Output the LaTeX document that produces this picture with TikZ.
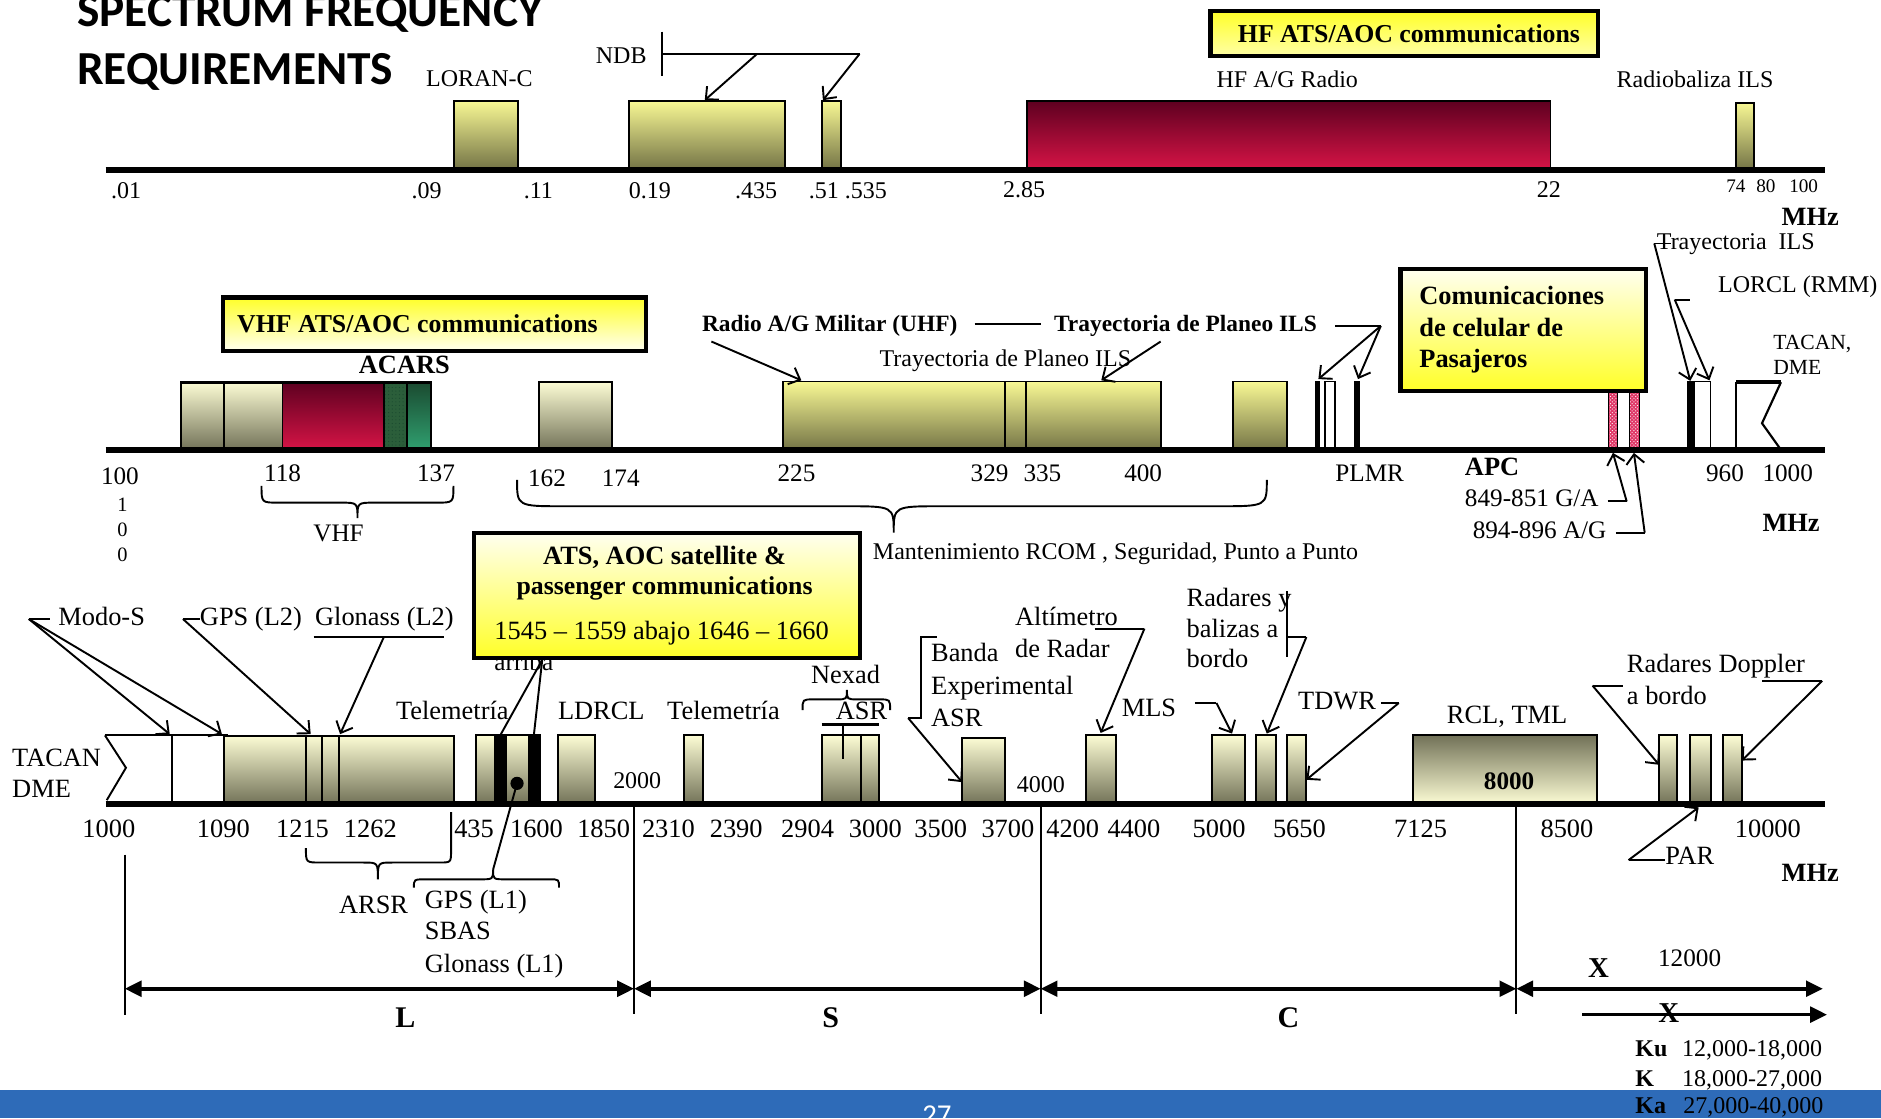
\documentclass[tikz,border=0pt]{standalone}
\usepackage{fontspec}
\setmainfont{Liberation Serif}
\newfontfamily\titlef{Carlito}
\usetikzlibrary{arrows.meta,patterns}
\definecolor{ytop}{HTML}{F8F894}
\definecolor{ybot}{HTML}{747446}
\definecolor{ctop}{HTML}{FCFCD4}
\definecolor{cbot}{HTML}{727258}
\definecolor{rtop}{HTML}{5E0020}
\definecolor{rbot}{HTML}{D61446}
\definecolor{gtop}{HTML}{1A4A30}
\definecolor{gbot}{HTML}{30A070}
\definecolor{gmot}{HTML}{2B5E3A}
\definecolor{pinkbar}{HTML}{E03868}
\definecolor{ylw}{HTML}{FFFF28}
\definecolor{ylwpale}{HTML}{FFFFF0}
\definecolor{barblue}{HTML}{2E6BB8}
\newcommand{\fsz}[1]{\fontsize{#1}{#1}\selectfont}
\begin{document}
\begin{tikzpicture}[x=1pt,y=-1pt,
  lab/.style={inner sep=0pt,anchor=base west},
  labc/.style={inner sep=0pt,anchor=base},
  top/.style={lab,font=\fsz{20}},
  mid/.style={lab,font=\fsz{21}},
  bot/.style={lab,font=\fsz{22}},
  bx/.style={draw=black,line width=1.6},
  ybox/.style={bx,top color=ytop,bottom color=ybot},
  cbox/.style={bx,top color=ctop,bottom color=cbot},
  rbox/.style={bx,top color=rtop,bottom color=rbot},
  lbox/.style={draw=black,line width=3.5},
  ln/.style={line width=1.6},
  arr/.style={line width=1.6,-{Straight Barb[length=8pt,width=15pt]}},
  axisline/.style={line width=4.6},
  band/.style={line width=3,{Triangle[length=14pt,width=13pt]}-{Triangle[length=14pt,width=13pt]}},
]
\useasboundingbox (0,0) rectangle (1568,932);
\fill[white] (0,0) rectangle (1568,932);

% ---------------- Title
\node[lab,font=\titlef\bfseries\fsz{39.5}] (title1) at (64,22) {SPECTRUM FREQUENCY};
\node[lab,font=\titlef\bfseries\fsz{39.5}] (title2) at (64,70.5) {REQUIREMENTS};

% ---------------- TOP BAND
\draw[ybox] (378.5,84) rectangle (431.5,141);
\draw[ybox] (524,84) rectangle (654,141);
\draw[ybox] (685,84) rectangle (701,141);
\draw[rbox] (856,84) rectangle (1292.5,141);
\draw[ybox] (1447,85.5) rectangle (1462,141);
\draw[axisline] (88,141.7) -- (1521,141.7);

\node[top] (loran) at (355,71.7) {LORAN-C};
\node[top] (ndb) at (496.5,53) {NDB};
\node[top] (hfag) at (1014,72.8) {HF A/G Radio};
\node[top] (radiob) at (1347.5,72.8) {Radiobaliza ILS};
\node[top] (k01) at (92.5,165.5) {.01};
\node[top] (k09) at (343,165.5) {.09};
\node[top] (k11) at (436.5,165.5) {.11};
\node[top] (k019) at (524,165.5) {0.19};
\node[top] (k435) at (612.5,165.5) {.435};
\node[top] (k51) at (674,165.5) {.51 .535};
\node[top] (k285) at (836,165) {2.85};
\node[top] (k22) at (1281,165) {22};
\node[labc,font=\fsz{16}] (k74) at (1447,160.5) {74};
\node[labc,font=\fsz{16}] (k80) at (1472,160.5) {80};
\node[labc,font=\fsz{16}] (k100t) at (1503.5,160.5) {100};
\node[lab,font=\bfseries\fsz{22}] (mhz1) at (1485,188) {MHz};

\coordinate (ndbv1) at (551.5,26.4);
\coordinate (ndbv2) at (551.5,63.3);
\coordinate (ndbh) at (551.5,45);
\coordinate (ndbm) at (631,45);
\coordinate (ndbe) at (716.5,45);
\draw[ln] (ndbv1) -- (ndbv2);
\draw[ln] (ndbh) -- (ndbe);
\draw[arr] (ndbm) -- (587.5,83.5);
\draw[arr] (ndbe) -- (686,83.5);

\draw[lbox,top color=ylw,bottom color=yellow!35] (1009,9) rectangle (1332,46.7);
\node[labc,font=\bfseries\fsz{21.5}] (hfats) at (1174.5,35.6) {HF ATS/AOC communications};

% ---------------- MIDDLE BAND
\draw[cbox] (151,318.5) rectangle (187,375);
\draw[cbox] (187,318.5) rectangle (235.5,375);
\draw[rbox] (235.5,318.5) rectangle (320,375);
\fill[gmot] (320,318.5) rectangle (339,375);
\fill[pattern=dots,pattern color=gtop] (320,318.5) rectangle (339,375);
\shade[top color=gtop,bottom color=gbot] (339,318.5) rectangle (359,375);
\draw[ln] (320,318.5) rectangle (359,375);
\draw[ln] (339,318.5) -- (339,375);
\draw[line width=2.5] (151,318.5) -- (359,318.5);
\draw[cbox] (449,318.5) rectangle (510.5,375);
\draw[ybox] (653,318) rectangle (838,375);
\draw[ybox] (838,318) rectangle (855,375);
\draw[ybox] (855,318) rectangle (967.5,375);
\draw[ybox] (1027.5,318) rectangle (1073,375);
\fill (1096,318) rectangle (1100,375);
\draw[line width=1.4,fill=white] (1104.6,318) rectangle (1113,375);
\fill (1129,318) rectangle (1134,375);
\fill[pinkbar] (1341,325.6) rectangle (1348,375);
\fill[pattern=crosshatch dots,pattern color=white] (1341,325.6) rectangle (1348,375);
\draw[line width=0.8] (1341,325.6) rectangle (1348,375);
\fill[pinkbar] (1358,325.6) rectangle (1367,375);
\fill[pattern=crosshatch dots,pattern color=white] (1358,325.6) rectangle (1367,375);
\draw[line width=0.8] (1358,325.6) rectangle (1367,375);
\fill (1406,318) rectangle (1412,375);
\draw[line width=1.2,fill=white] (1412,318) rectangle (1426,375);
\draw[line width=1.8] (1447.3,375) -- (1447.3,318.6);
\draw[line width=3.2] (1447.3,318.6) -- (1484.6,318.6);
\draw[line width=1.8] (1484.6,318.6) -- (1468.8,352.8) -- (1484.6,375);
\draw[axisline] (88,375) -- (1521,375);

\draw[lbox,top color=ylw,bottom color=ylwpale] (186,248) rectangle (538.5,292.5);
\node[lab,font=\bfseries\fsz{21.5}] (vhfats) at (197.5,277.5) {VHF ATS/AOC communications};
\node[lab,font=\bfseries\fsz{22}] (acars) at (299,311) {ACARS};

\node[lab,font=\bfseries\fsz{19.5}] (milit) at (585,276.4) {Radio A/G Militar (UHF)};
\node[lab,font=\bfseries\fsz{19.5}] (tpils) at (878.5,276.4) {Trayectoria de Planeo ILS};
\draw[ln] (812.5,270) -- (868,270);
\coordinate (tpj) at (1151,271.7);
\draw[ln] (1113,271.7) -- (tpj);
\draw[arr] (tpj) -- (1099,316);
\draw[arr] (tpj) -- (1132,316);
\draw[arr] (593,284.7) -- (668,317);
\node[top] (tpils2) at (733,305.6) {Trayectoria de Planeo ILS};
\draw[arr] (967.5,284.7) -- (918,317);

\draw[lbox,top color=ylwpale,bottom color=ylw] (1167.5,224) rectangle (1372,325.6);
\node[lab,font=\bfseries\fsz{22}] (com1) at (1183,254) {Comunicaciones};
\node[lab,font=\bfseries\fsz{22}] (com2) at (1183,280.6) {de celular de};
\node[lab,font=\bfseries\fsz{22}] (com3) at (1183,306.4) {Pasajeros};

\node[top] (trils) at (1381,208) {Trayectoria\ \ ILS};
\draw[ln] (1379,203) -- (1393,203);
\draw[arr] (1379,203) -- (1409,317.5);
\node[top] (lorcl) at (1432,244) {LORCL (RMM)};
\draw[ln] (1396,249.7) -- (1409,249.7);
\draw[arr] (1396,249.7) -- (1425,317);
\node[lab,font=\fsz{18}] (tac1) at (1478,291.7) {TACAN,};
\node[lab,font=\fsz{18}] (tac2) at (1478,312.5) {DME};

\node[mid] (m100) at (84,404) {100};
\node[mid] (m118) at (220,401.4) {118};
\node[mid] (m137) at (347.5,401.4) {137};
\node[mid] (m162) at (440,405.6) {162};
\node[mid] (m174) at (501.5,405.6) {174};
\node[mid] (m225) at (648,401.4) {225};
\node[mid] (m329) at (809,401.4) {329};
\node[mid] (m335) at (853,401.4) {335};
\node[mid] (m400) at (937,401.4) {400};
\node[mid] (plmr) at (1113,401.4) {PLMR};
\node[mid] (m960) at (1422,401.4) {960};
\node[mid] (m1000) at (1469,401.4) {1000};
\node[labc,font=\fsz{17}] (v1) at (102,426.4) {1};
\node[labc,font=\fsz{17}] (v2) at (102,447.2) {0};
\node[labc,font=\fsz{17}] (v3) at (102,468) {0};
\node[lab,font=\bfseries\fsz{22}] (apc) at (1221,396) {APC};
\node[mid] (ga) at (1221,422.6) {849-851 G/A};
\draw[ln] (1340,418) -- (1356,418);
\draw[arr] (1356,418) -- (1344.5,377.5);
\node[mid] (ag) at (1227.5,449) {894-896 A/G};
\draw[ln] (1347,444) -- (1371,444);
\draw[arr] (1371,444) -- (1362,377.5);
\node[lab,font=\bfseries\fsz{22}] (mhz2) at (1469,443) {MHz};

\draw[ln] (218,405) .. controls (218,419) .. (232,419) -- (284,419) .. controls (298,419) .. (298,432) .. controls (298,419) .. (312,419) -- (364,419) .. controls (378,419) .. (378,405);
\node[mid] (vhf) at (261,451.4) {VHF};
\draw[ln] (431,400) .. controls (431,422) .. (470,422) -- (705,422) .. controls (745,422) .. (745,444) .. controls (745,422) .. (785,422) -- (1016,422) .. controls (1056,422) .. (1056,400);
\node[top] (mant) at (727.5,466.7) {Mantenimiento RCOM , Seguridad, Punto a Punto};

% ---------------- BOTTOM BAND
\draw[ln] (87.5,613) -- (190,613);
\draw[ln] (87.5,613) -- (105,640) -- (89,667);
\draw[ln] (143.5,613) -- (143.5,670);
\draw[cbox] (186.5,613.3) rectangle (378.5,670);
\draw[ln] (255,613.3) -- (255,670);
\draw[ln] (268.5,613.3) -- (268.5,670);
\draw[ln] (282.5,613.3) -- (282.5,670);
\node[bot] (tacan) at (10,639) {TACAN};
\node[bot] (dme) at (10,665) {DME};
\draw[cbox] (396.5,613) rectangle (450,670);
\fill (411.5,613) rectangle (422.5,670);
\fill (440,613) rectangle (450,670);
\fill (431,653) circle (5.5);
\draw[cbox] (465,613) rectangle (496,670);
\node[lab,font=\fsz{20}] (b2000) at (511,657.5) {2000};
\draw[cbox] (570,613) rectangle (586,670);
\draw[cbox] (685,613) rectangle (717.5,670);
\draw[cbox] (717.5,613) rectangle (732.5,670);
\draw[line width=2.8] (685,604) -- (732.5,604);
\draw[ln] (702.5,604) -- (702.5,633);
\draw[cbox] (802,615) rectangle (837.5,670);
\node[lab,font=\fsz{20}] (b4000) at (847.5,661) {4000};
\draw[cbox] (905,612.5) rectangle (930,670);
\draw[cbox] (1010,613) rectangle (1038,670);
\draw[cbox] (1047,613) rectangle (1064,670);
\draw[cbox] (1073,613) rectangle (1089,670);
\draw[bx,top color=cbot,bottom color=ctop] (1177.5,613) rectangle (1331,670);
\node[labc,font=\bfseries\fsz{21}] (b8000) at (1258,658.3) {8000};
\draw[cbox] (1383,613) rectangle (1398,670);
\draw[cbox] (1409,613) rectangle (1426,670);
\draw[cbox] (1436,613) rectangle (1452,670);
\draw[axisline] (88,670) -- (1521,670);

\node[bot] (modos) at (48.5,521.4) {Modo-S};
\coordinate (modoj) at (24,516);
\draw[ln] (modoj) -- (42,516);
\draw[arr] (modoj) -- (141.5,612);
\draw[arr] (modoj) -- (185,612);
\node[bot] (gpsl2) at (166.5,521.4) {GPS (L2)};
\coordinate (gpsj) at (152.5,516);
\draw[ln] (gpsj) -- (167,516);
\draw[arr] (gpsj) -- (259,612);
\node[bot] (glol2) at (262.5,521.4) {Glonass (L2)};
\draw[ln] (261.5,531) -- (370,531);
\draw[arr] (320,531) -- (283.5,612);

\node[bot] (tel1) at (330,600) {Telemetría};
\node[bot] (ldrcl) at (465,600) {LDRCL};
\node[bot] (tel2) at (556,600) {Telemetría};
\node[bot] (nexad) at (676,569.5) {Nexad};
\node[bot] (asr1) at (696.5,600) {ASR};
\draw[ln] (669,592) .. controls (669,583) .. (678,583) -- (697,583) .. controls (706,583) .. (706,575) .. controls (706,583) .. (715,583) -- (733,583) .. controls (742,583) .. (742,592);

\node[bot] (banda) at (776,551.4) {Banda};
\node[bot] (exper) at (776,579) {Experimental};
\node[bot] (asr2) at (776,605.6) {ASR};
\draw[ln] (781,531) -- (767.5,531) -- (767.5,598.5) -- (757,598.5);
\draw[arr] (757,598.5) -- (802,652);

\node[bot] (altim) at (846,521.7) {Altímetro};
\node[bot] (deradar) at (846,547.8) {de Radar};
\draw[ln] (912.5,524) -- (954,524);
\draw[arr] (954,524) -- (917.5,611);

\node[bot] (mls) at (935,597) {MLS};
\draw[ln] (996,586) -- (1014,586);
\draw[arr] (1014,586) -- (1027,611.5);

\node[bot] (rady) at (989,505.6) {Radares y};
\node[bot] (baliz) at (989,531) {balizas a};
\node[bot] (bordo) at (989,556.7) {bordo};
\draw[ln] (1073,493) -- (1073,548);
\draw[ln] (1073,531) -- (1089,531);
\draw[arr] (1089,531) -- (1056,611.5);

\node[bot] (tdwr) at (1082,591.7) {TDWR};
\draw[ln] (1151,586) -- (1166,586);
\draw[arr] (1166,586) -- (1089,650);

\node[bot] (rcl) at (1206,602.8) {RCL, TML};

\node[bot] (radd) at (1356,561) {Radares Doppler};
\node[bot] (abordo) at (1356,587.5) {a bordo};
\draw[ln] (1327.5,571.5) -- (1352.5,571.5);
\draw[arr] (1327.5,571.5) -- (1383,637.5);
\draw[ln] (1469,567.5) -- (1519,567.5);
\draw[arr] (1519,567.5) -- (1452,634);

\node[bot] (par) at (1388,721) {PAR};
\draw[ln] (1357.5,717) -- (1388,717);
\draw[arr] (1357.5,717) -- (1416,673);

\foreach \xx/\tt [count=\i] in {68.5/1000,164/1090,230/1215,286.5/1262,378.5/435,425/1600,481/1850,535/2310,591.5/2390,651/2904,707.5/3000,762/3500,818/3700,872/4200,923/4400,994/5000,1061/5650,1162/7125,1284/8500,1446/10000}
  \node[bot] (bt\i) at (\xx,698) {\tt};
\node[lab,font=\bfseries\fsz{22}] (mhz3) at (1485,734.7) {MHz};

% ARSR brace
\draw[ln] (255,707) .. controls (255,719) .. (267,719) -- (303,719) .. controls (315,719) .. (315,733) .. controls (315,719) .. (327,719) -- (366,719) .. controls (376,719) .. (376,709) -- (376,677);
\node[bot] (arsr) at (282.5,761.7) {ARSR};
% GPS L1 brace
\draw[ln] (345,740) .. controls (345,733) .. (355,733) -- (400,733) .. controls (411,733) .. (411,725) .. controls (411,733) .. (422,733) -- (458,733) .. controls (466,733) .. (466,740);
\draw[ln] (411,725) -- (431,653);
\node[bot] (gpsl1) at (354,757.5) {GPS (L1)};
\node[bot] (sbas) at (354,783.3) {SBAS};
\node[bot] (glol1) at (354,810.6) {Glonass (L1)};

% ATS satellite box
\node[lab,font=\fsz{21}] (arriba) at (412,559) {arriba};
\draw[lbox,top color=ylwpale,bottom color=ylw] (395,444) rectangle (716.7,548.3);
\node[labc,font=\bfseries\fsz{22}] (ats1) at (554,470.8) {ATS, AOC satellite \&};
\node[labc,font=\bfseries\fsz{21.5}] (ats2) at (554,495.8) {passenger communications};
\node[lab,font=\fsz{22}] (ats3) at (412,533.3) {1545 – 1559 abajo 1646 – 1660};
\coordinate (atsapex) at (452,550);
\draw[ln] (atsapex) -- (417,613);
\draw[ln] (atsapex) -- (445,613);

% band limits
\draw[ln] (104,712.5) -- (104,845.8);
\draw[ln] (528.5,672) -- (528.5,845);
\draw[ln] (867.5,672) -- (867.5,845);
\draw[ln] (1264,672) -- (1264,845);
\draw[band] (104,824.2) -- (528.5,824.2);
\draw[band] (528.5,824.2) -- (867.5,824.2);
\draw[band] (867.5,824.2) -- (1264,824.2);
\draw[band] (1264,824.2) -- (1519.5,824.2);
\draw[line width=3,-{Triangle[length=14pt,width=13pt]}] (1319,845.8) -- (1523,845.8);
\node[labc,font=\bfseries\fsz{25}] (bl) at (338,856.9) {L};
\node[labc,font=\bfseries\fsz{25}] (bs) at (692.5,856.9) {S};
\node[labc,font=\bfseries\fsz{25}] (bc) at (1074,856.9) {C};
\node[labc,font=\bfseries\fsz{24}] (bx1) at (1332.5,815) {X};
\node[labc,font=\bfseries\fsz{24}] (bx2) at (1391,852.5) {X};
\node[mid] (b12000) at (1382,805.6) {12000};
\node[lab,font=\bfseries\fsz{20}] (ku) at (1363,881) {Ku};
\node[lab,font=\fsz{20}] (kur) at (1402,881) {12,000-18,000};
\node[lab,font=\bfseries\fsz{20}] (kk) at (1363,905.6) {K};
\node[lab,font=\fsz{20}] (kr) at (1402,905.6) {18,000-27,000};

% footer bar
\fill[barblue] (0,909) rectangle (1568,932);
\node[lab,font=\bfseries\fsz{20}] (ka) at (1363,927.8) {Ka};
\node[lab,font=\fsz{20}] (kar) at (1403,927.8) {27,000-40,000};
\node[labc,font=\titlef\fsz{24},text=white] (pg) at (781,937.5) {27};
\end{tikzpicture}
\end{document}
